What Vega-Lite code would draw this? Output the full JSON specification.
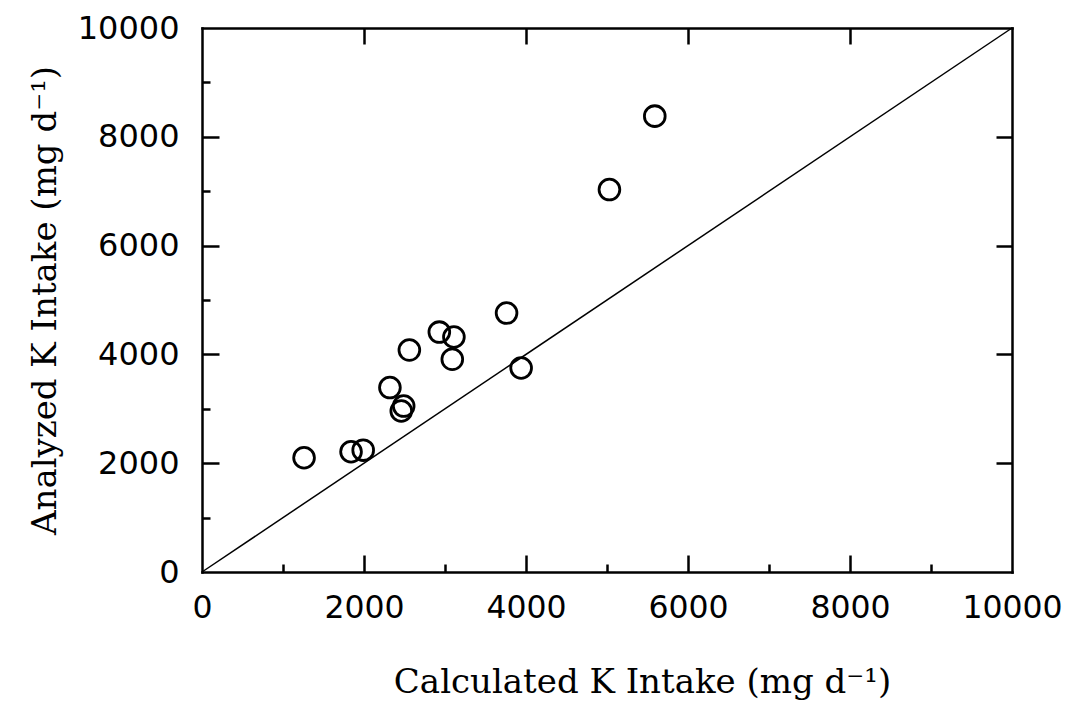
{
  "$schema": "https://vega.github.io/schema/vega-lite/v6.json",
  "width": 810,
  "height": 544,
  "autosize": {"type": "none"},
  "padding": {"left": 202, "top": 28, "right": 55, "bottom": 129},
  "background": "white",
  "config": {
    "view": {"stroke": null},
    "axis": {
      "grid": false,
      "domainColor": "black",
      "domainWidth": 2.5,
      "domainCap": "square",
      "tickColor": "black",
      "tickWidth": 2.5,
      "labelColor": "black",
      "titleColor": "black"
    }
  },
  "datasets": {
    "obs": [
      {"calc": 1260, "anal": 2100},
      {"calc": 1840, "anal": 2210},
      {"calc": 1990, "anal": 2240},
      {"calc": 2320, "anal": 3390},
      {"calc": 2490, "anal": 3050},
      {"calc": 2460, "anal": 2960},
      {"calc": 2560, "anal": 4080},
      {"calc": 2930, "anal": 4410},
      {"calc": 3110, "anal": 4320},
      {"calc": 3090, "anal": 3910},
      {"calc": 3760, "anal": 4760},
      {"calc": 3940, "anal": 3750},
      {"calc": 5030, "anal": 7030},
      {"calc": 5590, "anal": 8380}
    ],
    "diag": [
      {"calc": 0, "anal": 0},
      {"calc": 10000, "anal": 10000}
    ]
  },
  "resolve": {"axis": {"x": "independent", "y": "independent"}},
  "layer": [
    {
      "data": {"name": "diag"},
      "mark": {"type": "line", "color": "black", "strokeWidth": 1.5},
      "encoding": {
        "x": {
          "field": "calc", "type": "quantitative",
          "scale": {"domain": [0, 10000], "nice": false, "zero": false},
          "axis": {"orient": "top", "values": [2000, 4000, 6000, 8000], "tickSize": -16, "labels": false, "title": null}
        },
        "y": {
          "field": "anal", "type": "quantitative",
          "scale": {"domain": [0, 10000], "nice": false, "zero": false},
          "axis": {"orient": "right", "values": [2000, 4000, 6000, 8000], "tickSize": -16, "labels": false, "title": null}
        }
      }
    },
    {
      "data": {"name": "obs"},
      "mark": {"type": "point", "shape": "circle", "filled": false, "stroke": "black", "strokeWidth": 2.8, "size": 430, "opacity": 1},
      "encoding": {
        "x": {
          "field": "calc", "type": "quantitative",
          "scale": {"domain": [0, 10000], "nice": false, "zero": false},
          "axis": {
            "orient": "bottom", "values": [0, 2000, 4000, 6000, 8000, 10000], "format": "d",
            "ticks": false, "labelFont": "DejaVu Sans", "labelFontSize": 31.5, "labelPadding": 20,
            "labelFlush": false, "labelOverlap": false,
            "title": "Calculated K Intake (mg d⁻¹)", "titleFont": "DejaVu Serif", "titleFontSize": 34,
            "titleFontWeight": "normal", "titlePadding": 42, "titleX": 440
          }
        },
        "y": {
          "field": "anal", "type": "quantitative",
          "scale": {"domain": [0, 10000], "nice": false, "zero": false},
          "axis": {
            "orient": "left", "values": [0, 2000, 4000, 6000, 8000, 10000], "format": "d",
            "ticks": false, "labelFont": "DejaVu Sans", "labelFontSize": 32, "labelPadding": 23,
            "labelFlush": false, "labelOverlap": false,
            "title": "Analyzed K Intake (mg d⁻¹)", "titleFont": "DejaVu Serif", "titleFontSize": 34,
            "titleFontWeight": "normal", "titlePadding": 15
          }
        }
      }
    },
    {
      "data": {"name": "obs"},
      "mark": {"type": "point", "opacity": 0},
      "encoding": {
        "x": {
          "field": "calc", "type": "quantitative",
          "scale": {"domain": [0, 10000], "nice": false, "zero": false},
          "axis": {"orient": "bottom", "values": [2000, 4000, 6000, 8000], "tickSize": -17, "labels": false, "domain": false, "title": null}
        },
        "y": {
          "field": "anal", "type": "quantitative",
          "scale": {"domain": [0, 10000], "nice": false, "zero": false},
          "axis": {"orient": "left", "values": [2000, 4000, 6000, 8000], "tickSize": -17, "labels": false, "domain": false, "title": null}
        }
      }
    },
    {
      "data": {"name": "obs"},
      "mark": {"type": "point", "opacity": 0},
      "encoding": {
        "x": {
          "field": "calc", "type": "quantitative",
          "scale": {"domain": [0, 10000], "nice": false, "zero": false},
          "axis": {"orient": "bottom", "values": [1000, 3000, 5000, 7000, 9000], "tickSize": -8, "labels": false, "domain": false, "title": null}
        },
        "y": {
          "field": "anal", "type": "quantitative",
          "scale": {"domain": [0, 10000], "nice": false, "zero": false},
          "axis": {"orient": "left", "values": [1000, 3000, 5000, 7000, 9000], "tickSize": -8, "labels": false, "domain": false, "title": null}
        }
      }
    }
  ]
}
